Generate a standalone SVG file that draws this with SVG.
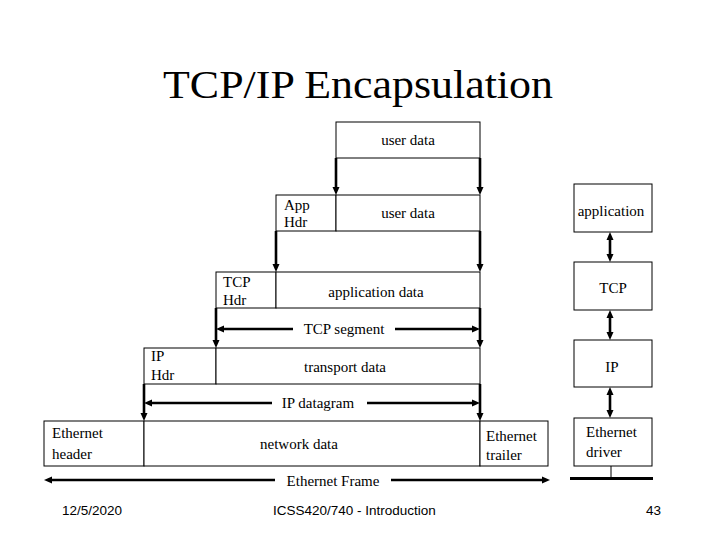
<svg xmlns="http://www.w3.org/2000/svg" width="720" height="540" viewBox="0 0 720 540">
<style>
.box{fill:#fff;stroke:#000;stroke-width:1}
.t{font-family:"Liberation Serif","Times New Roman",serif;font-size:15px;fill:#000}
.m{text-anchor:middle}
.f{font-family:"Liberation Sans",Arial,sans-serif;font-size:13.5px;fill:#000}
.ar{stroke:#000;stroke-width:2.6;fill:none}
.thin{stroke:#000;stroke-width:1;fill:none}
</style>
<defs>
<marker id="ah" viewBox="0 0 8 8" markerWidth="8" markerHeight="8" refX="2" refY="4" orient="auto-start-reverse" markerUnits="userSpaceOnUse">
<path d="M0,0.5 L8,4 L0,7.5 z" fill="#000"/>
</marker>
</defs>
<rect width="720" height="540" fill="#fff"/>
<text x="358" y="98" font-family="'Liberation Serif','Times New Roman',serif" font-size="40" text-anchor="middle" textLength="390" lengthAdjust="spacingAndGlyphs">TCP/IP Encapsulation</text>

<g id="user-data-top">
<rect class="box" x="336" y="122" width="144" height="36"/>
<text class="t m" x="408" y="145">user data</text>
</g>
<g id="app-hdr">
<rect class="box" x="276" y="195" width="60" height="36"/>
<text class="t" x="284" y="210">App</text>
<text class="t" x="284" y="227">Hdr</text>
</g>
<g id="user-data">
<rect class="box" x="336" y="195" width="144" height="36"/>
<text class="t m" x="408" y="218">user data</text>
</g>
<g id="tcp-hdr">
<rect class="box" x="216" y="272" width="60" height="36"/>
<text class="t" x="223" y="287">TCP</text>
<text class="t" x="223" y="305">Hdr</text>
</g>
<g id="application-data">
<rect class="box" x="276" y="272" width="204" height="36"/>
<text class="t m" x="376" y="297">application data</text>
</g>
<g id="ip-hdr">
<rect class="box" x="144" y="348" width="72" height="36"/>
<text class="t" x="151" y="361">IP</text>
<text class="t" x="151" y="380">Hdr</text>
</g>
<g id="transport-data">
<rect class="box" x="216" y="348" width="264" height="36"/>
<text class="t m" x="345" y="372">transport data</text>
</g>
<g id="ethernet-header">
<rect class="box" x="44" y="421" width="100" height="45"/>
<text class="t" x="52" y="438">Ethernet</text>
<text class="t" x="52" y="459">header</text>
</g>
<g id="network-data">
<rect class="box" x="144" y="421" width="336" height="45"/>
<text class="t m" x="299" y="449">network data</text>
</g>
<g id="ethernet-trailer">
<rect class="box" x="480" y="421" width="68" height="45"/>
<text class="t" x="486" y="441">Ethernet</text>
<text class="t" x="486" y="460">trailer</text>
</g>

<g id="stack-application">
<rect class="box" x="574" y="184" width="78" height="48"/>
<text class="t m" x="611" y="216">application</text>
</g>
<g id="stack-tcp">
<rect class="box" x="574" y="262" width="78" height="48"/>
<text class="t m" x="613" y="293">TCP</text>
</g>
<g id="stack-ip">
<rect class="box" x="574" y="340" width="78" height="47"/>
<text class="t m" x="612" y="372">IP</text>
</g>
<g id="stack-ethernet-driver">
<rect class="box" x="574" y="418" width="78" height="48"/>
<text class="t" x="586" y="437">Ethernet</text>
<text class="t" x="586" y="457">driver</text>
</g>

<g id="connectors">
<line class="ar" x1="336" y1="158" x2="336" y2="189" marker-end="url(#ah)"/>
<line class="ar" x1="480" y1="158" x2="480" y2="189" marker-end="url(#ah)"/>
<line class="ar" x1="276" y1="231" x2="276" y2="266" marker-end="url(#ah)"/>
<line class="ar" x1="480" y1="231" x2="480" y2="266" marker-end="url(#ah)"/>
<line class="ar" x1="216" y1="308" x2="216" y2="342" marker-end="url(#ah)"/>
<line class="ar" x1="480" y1="308" x2="480" y2="342" marker-end="url(#ah)"/>
<line class="ar" x1="144" y1="384" x2="144" y2="415" marker-end="url(#ah)"/>
<line class="ar" x1="480" y1="384" x2="480" y2="415" marker-end="url(#ah)"/>

<line class="ar" x1="293" y1="329" x2="222" y2="329" marker-end="url(#ah)"/>
<line class="ar" x1="395" y1="329" x2="474" y2="329" marker-end="url(#ah)"/>
<text class="t m" x="344" y="334">TCP segment</text>

<line class="ar" x1="272" y1="403" x2="150" y2="403" marker-end="url(#ah)"/>
<line class="ar" x1="367" y1="403" x2="474" y2="403" marker-end="url(#ah)"/>
<text class="t m" x="318" y="408">IP datagram</text>

<line class="ar" x1="275" y1="480" x2="50" y2="480" marker-end="url(#ah)"/>
<line class="ar" x1="391" y1="480" x2="544" y2="480" marker-end="url(#ah)"/>
<text class="t m" x="333" y="486">Ethernet Frame</text>

<line class="ar" x1="610" y1="238" x2="610" y2="256" marker-start="url(#ah)" marker-end="url(#ah)"/>
<line class="ar" x1="610" y1="316" x2="610" y2="334" marker-start="url(#ah)" marker-end="url(#ah)"/>
<line class="ar" x1="610" y1="393" x2="610" y2="412" marker-start="url(#ah)" marker-end="url(#ah)"/>

<line class="thin" x1="611" y1="466" x2="611" y2="478"/>
<line stroke="#000" stroke-width="3" x1="570" y1="478.5" x2="653" y2="478.5"/>
</g>

<text class="f" x="62" y="515">12/5/2020</text>
<text class="f" x="273" y="515">ICSS420/740 - Introduction</text>
<text class="f" x="646" y="515">43</text>
</svg>
